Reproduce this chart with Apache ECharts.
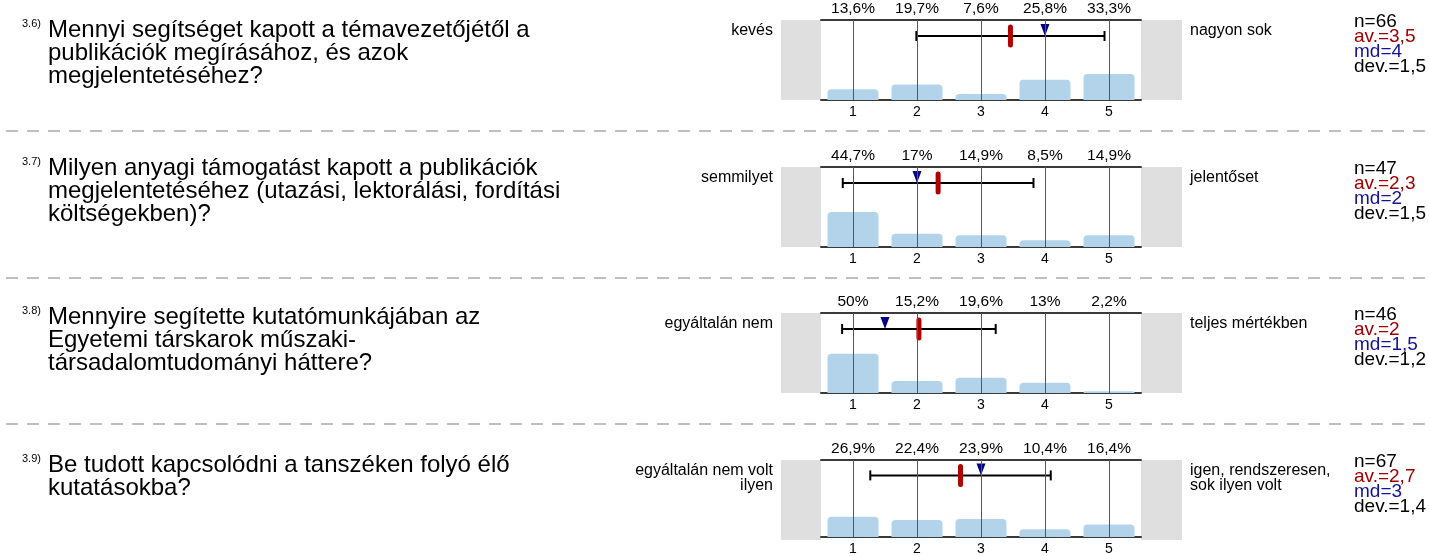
<!DOCTYPE html>
<html>
<head>
<meta charset="utf-8">
<script src="https://cdn.jsdelivr.net/npm/echarts@6/dist/echarts.min.js"></script>
<style>
html,body{margin:0;padding:0;background:#fff;}
#chart{width:1429px;height:556px;}
</style>
</head>
<body>
<div id="chart"></div>
<script>
// ---- data ----
const cats = ['1', '2', '3', '4', '5'];
const qNums = ['3.6)', '3.7)', '3.8)', '3.9)'];
const qTexts = [
  'Mennyi segítséget kapott a témavezetőjétől a\npublikációk megírásához, és azok\nmegjelentetéséhez?',
  'Milyen anyagi támogatást kapott a publikációk\nmegjelentetéséhez (utazási, lektorálási, fordítási\nköltségekben)?',
  'Mennyire segítette kutatómunkájában az\nEgyetemi társkarok műszaki-\ntársadalomtudományi háttere?',
  'Be tudott kapcsolódni a tanszéken folyó élő\nkutatásokba?'
];
const lowLabels = ['kevés', 'semmilyet', 'egyáltalán nem', 'egyáltalán nem volt\nilyen'];
const highLabels = ['nagyon sok', 'jelentőset', 'teljes mértékben', 'igen, rendszeresen,\nsok ilyen volt'];
const pctQ36 = [13.6, 19.7, 7.6, 25.8, 33.3];
const pctQ37 = [44.7, 17, 14.9, 8.5, 14.9];
const pctQ38 = [50, 15.2, 19.6, 13, 2.2];
const pctQ39 = [26.9, 22.4, 23.9, 10.4, 16.4];
const nVals = [66, 47, 46, 67];
const meanVals = [3.46, 2.33, 2.03, 2.68];
const medianVals = [4, 2, 1.5, 3];
const devVals = [1.47, 1.49, 1.2, 1.41];

const pcts = [pctQ36, pctQ37, pctQ38, pctQ39];

// ---- layout ----
const FONT = 'Liberation Sans, Arial, Helvetica, sans-serif';
const rowTop = [20, 167, 313, 460];
const qTextTop = [19, 157, 306, 454];
const sepY = [131, 278, 424];
const plotLeft = 821, plotW = 320, plotH = 80;

function fmtNum(v) { return String(Math.round(v * 10) / 10).replace('.', ','); }
function fmtPct(v) { return String(v).replace('.', ',') + '%'; }

const option = { animation: false, grid: [], xAxis: [], yAxis: [], series: [], graphic: [] };

pcts.forEach((vals, i) => {
  const top = rowTop[i];
  option.grid.push({ left: plotLeft, top: top, width: plotW, height: plotH, show: true, backgroundColor: '#fff', borderWidth: 0 });
  const xb = option.xAxis.length;
  const axLine = { show: true, lineStyle: { color: '#3a3a3a', width: 2 } };
  option.xAxis.push({ type: 'category', gridIndex: i, data: cats, position: 'bottom', axisLine: axLine,
    axisTick: { show: false }, splitLine: { show: false },
    axisLabel: { color: '#000', fontSize: 14, margin: 5, fontFamily: FONT } });
  option.xAxis.push({ type: 'category', gridIndex: i, data: vals.map(fmtPct), position: 'top', axisLine: axLine,
    axisTick: { show: false }, splitLine: { show: false },
    axisLabel: { color: '#000', fontSize: 15.5, margin: 3, fontFamily: FONT } });
  option.xAxis.push({ type: 'value', gridIndex: i, min: 0.5, max: 5.5, show: false });
  const yb = option.yAxis.length;
  option.yAxis.push({ type: 'value', gridIndex: i, min: 0, max: 102, show: false });
  option.yAxis.push({ type: 'value', gridIndex: i, min: 0, max: 80, inverse: true, show: false });

  option.series.push({
    type: 'bar', xAxisIndex: xb, yAxisIndex: yb, data: vals, barWidth: 51, silent: true,
    itemStyle: { color: '#b3d3eb', borderRadius: [4, 4, 0, 0] },
    markLine: { symbol: 'none', silent: true, label: { show: false },
      lineStyle: { color: '#1d62b5', width: 1, type: 'solid' },
      data: cats.map(c => ({ xAxis: c })) }
  });
  const m = meanVals[i], d = devVals[i];
  option.series.push({
    type: 'custom', xAxisIndex: xb + 2, yAxisIndex: yb + 1, silent: true,
    data: [[m - d, m + d, m, medianVals[i]]],
    renderItem: function (params, api) {
      const yE = 16;
      const pL = api.coord([api.value(0), yE]);
      const pR = api.coord([api.value(1), yE]);
      const pM = api.coord([api.value(2), yE]);
      const pD = api.coord([api.value(3), yE]);
      const ls = { stroke: '#000', lineWidth: 2 };
      return { type: 'group', children: [
        { type: 'line', shape: { x1: pL[0], y1: pL[1], x2: pR[0], y2: pR[1] }, style: ls },
        { type: 'line', shape: { x1: pL[0], y1: pL[1] - 5, x2: pL[0], y2: pL[1] + 5 }, style: ls },
        { type: 'line', shape: { x1: pR[0], y1: pR[1] - 5, x2: pR[0], y2: pR[1] + 5 }, style: ls },
        { type: 'polygon', shape: { points: [[pD[0] - 4.5, pD[1] - 12], [pD[0] + 4.5, pD[1] - 12], [pD[0], pD[1]]] }, style: { fill: '#000080' } },
        { type: 'rect', shape: { x: pM[0] - 2.5, y: pM[1] - 11.5, width: 5, height: 23, r: 2.5 }, style: { fill: '#b00000' } }
      ] };
    }
  });

  // gray side boxes
  option.graphic.push({ type: 'rect', shape: { x: 781, y: top, width: 40, height: plotH }, style: { fill: '#dfdfdf' }, silent: true });
  option.graphic.push({ type: 'rect', shape: { x: plotLeft + plotW, y: top, width: 41, height: plotH }, style: { fill: '#dfdfdf' }, silent: true });

  // texts
  option.graphic.push({ type: 'text', x: 22, y: qTextTop[i] - 1, silent: true,
    style: { text: qNums[i], fontSize: 11, fontFamily: FONT, fill: '#000', align: 'left', verticalAlign: 'top' } });
  option.graphic.push({ type: 'text', x: 48, y: qTextTop[i], silent: true,
    style: { text: qTexts[i], fontSize: 24, lineHeight: 23, fontFamily: FONT, fill: '#000', align: 'left', verticalAlign: 'top' } });
  option.graphic.push({ type: 'text', x: 773, y: top + 3, silent: true,
    style: { text: lowLabels[i], fontSize: 16, lineHeight: 15, fontFamily: FONT, fill: '#000', align: 'right', verticalAlign: 'top' } });
  option.graphic.push({ type: 'text', x: 1190, y: top + 3, silent: true,
    style: { text: highLabels[i], fontSize: 16, lineHeight: 15, fontFamily: FONT, fill: '#000', align: 'left', verticalAlign: 'top' } });
  const stats = [
    ['n=' + nVals[i], '#000'],
    ['av.=' + fmtNum(meanVals[i]), '#a00000'],
    ['md=' + fmtNum(medianVals[i]), '#12129c'],
    ['dev.=' + fmtNum(devVals[i]), '#000']
  ];
  stats.forEach((s, k) => {
    option.graphic.push({ type: 'text', x: 1354, y: top + 2 + k * 15, silent: true,
      style: { text: s[0], fontSize: 19, fontFamily: FONT, fill: s[1], align: 'left', verticalAlign: 'middle' } });
  });
});

sepY.forEach(y => {
  option.graphic.push({ type: 'line', silent: true, shape: { x1: 6, y1: y, x2: 1429, y2: y },
    style: { stroke: '#aaaaaa', lineWidth: 1.5, lineDash: [12, 9] } });
});

const chart = echarts.init(document.getElementById('chart'), null, { renderer: 'canvas' });
chart.setOption(option);
</script>
</body>
</html>
